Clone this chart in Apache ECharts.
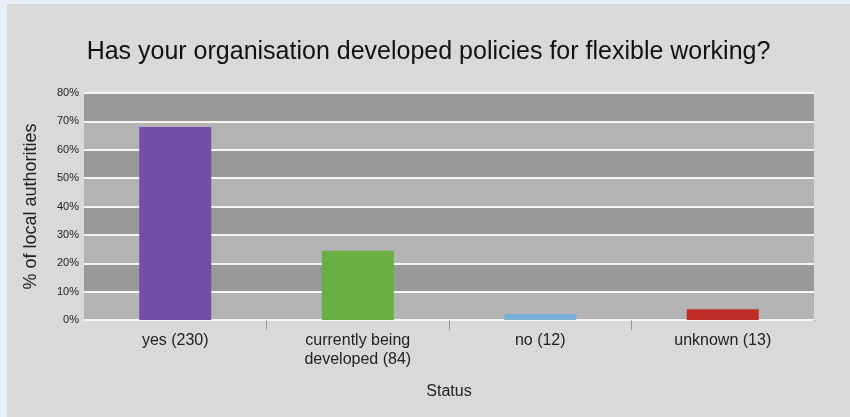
<!DOCTYPE html>
<html>
<head>
<meta charset="utf-8">
<script src="https://cdn.jsdelivr.net/npm/echarts@6/dist/echarts.min.js"></script>
<style>
  html, body { margin: 0; padding: 0; background: #e9eff9; width: 850px; height: 417px; overflow: hidden; }
  #chart { position: absolute; left: 7px; top: 4px; width: 843px; height: 413px; }
</style>
</head>
<body>
<div id="chart"></div>
<script>
const titleText = 'Has your organisation developed policies for flexible working?';
const categories = ['yes (230)', 'currently being\ndeveloped (84)', 'no (12)', 'unknown (13)'];
const values = [68.0, 24.4, 2.1, 3.8];
const barColors = ['#764ca9', '#69af44', '#7ab1d5', '#be2e27'];
const yTicks = [0, 10, 20, 30, 40, 50, 60, 70, 80];
const yAxisName = '% of local authorities';
const xAxisName = 'Status';

const chart = echarts.init(document.getElementById('chart'));
chart.setOption({
  backgroundColor: '#d9d9d9',
  animation: false,
  textStyle: { fontFamily: 'Liberation Sans, Arial, sans-serif' },
  title: {
    text: titleText,
    left: 'center',
    top: 31,
    textStyle: { fontSize: 25, fontWeight: 'normal', color: '#111', fontFamily: 'Liberation Sans, Arial, sans-serif' }
  },
  grid: { left: 77, right: 36, top: 89, bottom: 97, containLabel: false },
  xAxis: {
    type: 'category',
    data: categories,
    name: xAxisName,
    nameLocation: 'middle',
    nameGap: 64,
    nameTextStyle: { fontSize: 16, color: '#222', verticalAlign: 'top' },
    axisLine: { show: true, lineStyle: { color: '#f4f4f4', width: 2 } },
    axisTick: {
      show: true,
      length: 10,
      lineStyle: { color: '#999', width: 1 },
      interval: function (index) { return index > 0 && index < categories.length; }
    },
    axisLabel: { fontSize: 16, color: '#222', margin: 11, lineHeight: 19, interval: 0 }
  },
  yAxis: {
    type: 'value',
    min: yTicks[0],
    max: yTicks[yTicks.length - 1],
    interval: 10,
    name: yAxisName,
    nameLocation: 'middle',
    nameGap: 44,
    nameTextStyle: { fontSize: 18, color: '#222' },
    axisLine: { show: false },
    axisTick: { show: false },
    axisLabel: { fontSize: 11, color: '#222', margin: 5, formatter: function (v) { return v + '%'; } },
    splitLine: { show: true, lineStyle: { color: '#f4f4f4', width: 2 } },
    splitArea: { show: true, areaStyle: { color: ['#b3b3b3', '#999999'] } }
  },
  series: [{
    type: 'bar',
    data: values.map(function (v, i) { return { value: v, itemStyle: { color: barColors[i] } }; }),
    barWidth: 72
  }]
});

// hide the end-of-axis tick that the reference does not draw
const rect = chart.getModel().getComponent('grid').coordinateSystem.getRect();
chart.setOption({
  graphic: [
    { type: 'rect', shape: { x: rect.x + rect.width - 3, y: rect.y + rect.height + 1, width: 7, height: 13 },
      style: { fill: '#d9d9d9' }, z: 100 }
  ]
});
</script>
</body>
</html>
